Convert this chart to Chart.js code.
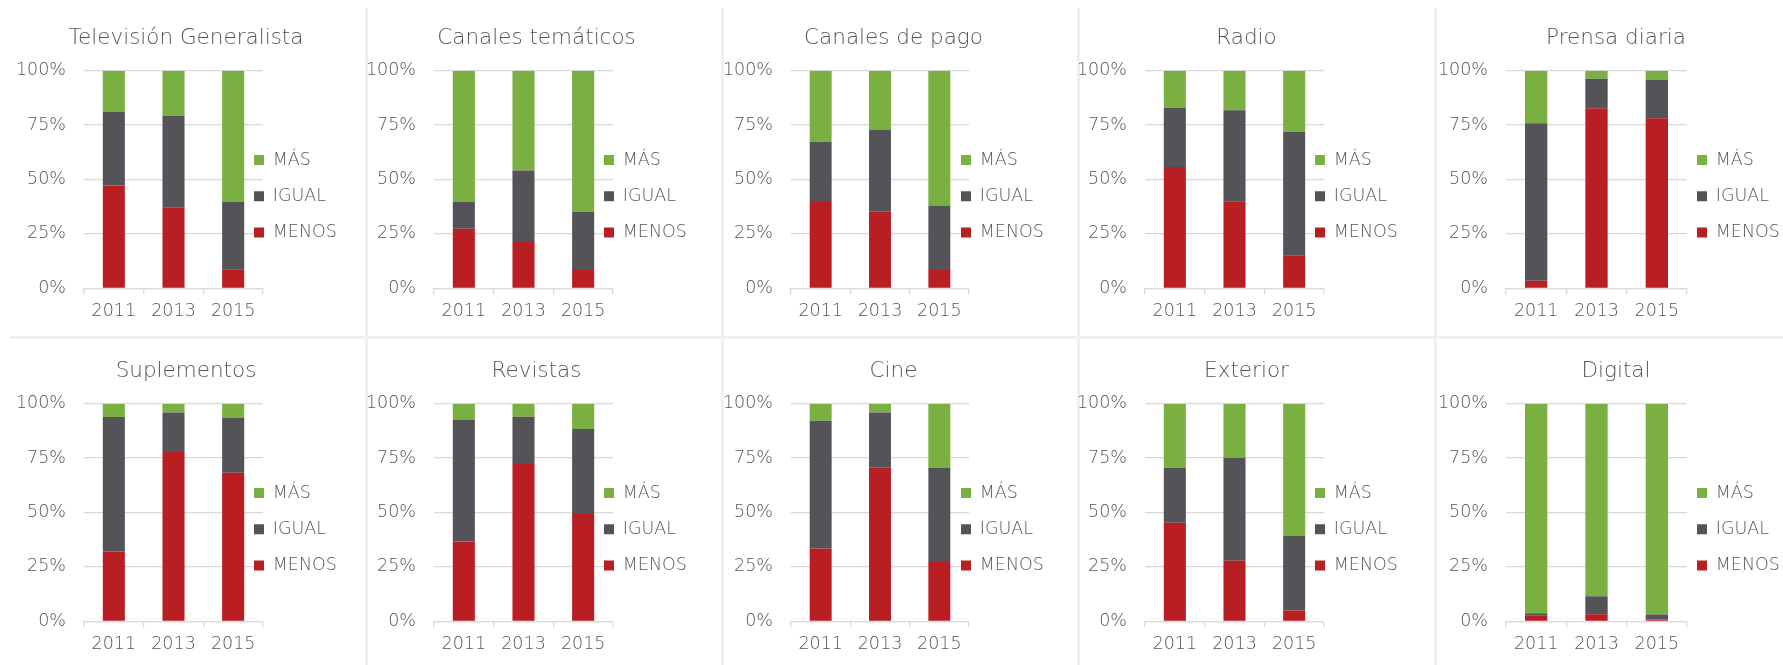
<!DOCTYPE html>
<html>
<head>
<meta charset="utf-8">
<script src="https://cdn.jsdelivr.net/npm/chart.js@4/dist/chart.umd.min.js"></script>
<style>
  html, body { margin: 0; padding: 0; background: #ffffff; }
  body { width: 1783px; height: 665px; overflow: hidden; position: relative; }
  .sep { position: absolute; background: #f0f0f0; }
  canvas { position: absolute; }
</style>
</head>
<body>
<script>
// ---------- DATA ----------
const CATEGORIES = ['2011', '2013', '2015'];
const PANEL_TITLES = ['Televisión Generalista', 'Canales temáticos', 'Canales de pago', 'Radio', 'Prensa diaria',
                      'Suplementos', 'Revistas', 'Cine', 'Exterior', 'Digital'];
const SERIES_NAMES = ['MENOS', 'IGUAL', 'MÁS'];
// percentages per panel, one value per category (2011, 2013, 2015)
const MENOS = [
  [47.3, 37.2, 8.7], [27.4, 21.7, 8.4], [40.1, 35.2, 8.4], [55.7, 40.0, 15.2], [3.5, 82.8, 78.1],
  [32.1, 77.8, 68.3], [36.7, 72.3, 49.8], [33.5, 70.6, 27.2], [45.3, 27.8, 5.0], [2.8, 3.2, 0.8]
];
const IGUAL = [
  [33.7, 42.1, 31.1], [12.4, 32.4, 26.8], [27.3, 37.8, 29.6], [27.3, 41.8, 56.8], [72.3, 13.5, 17.8],
  [61.8, 18.2, 25.3], [56.0, 21.7, 38.6], [58.7, 25.4, 43.3], [25.3, 47.4, 34.3], [0.9, 8.3, 2.3]
];
const MAS = [
  [19.0, 20.7, 60.2], [60.2, 45.9, 64.8], [32.6, 27.0, 62.0], [17.0, 18.2, 28.0], [24.2, 3.7, 4.1],
  [6.1, 4.0, 6.4], [7.3, 6.0, 11.6], [7.8, 4.0, 29.5], [29.4, 24.8, 60.7], [96.3, 88.5, 96.9]
];
const Y_TICK_VALUES = [0, 25, 50, 75, 100];
const Y_TICK_SUFFIX = '%';

// ---------- STYLE / LAYOUT ----------
const SERIES_COLORS = ['#b91e23', '#545458', '#7aaf42'];
const TEXT_COLOR = '#555555';
const GRID_COLOR = '#d9d9d9';
const FONT_FAMILY = "'DejaVu Sans Light', 'DejaVu Sans', sans-serif";
const FONT_WEIGHT = 200;
const COL_LEFT = [11, 361, 718, 1072, 1433];
const COL_WIDTH = [350, 351, 351, 349, 366];
const PLOT_WIDTH = [179, 179, 178, 179, 181];
const LEGEND_DX = [170, 170, 170, 170, 191];
const ROW_TOP = [8, 341];
const PANEL_H = 330;
const Y_AXIS_W = 73;

// separators
[[365, 8, 3, 700], [721, 8, 3, 700], [1077, 8, 3, 700], [1433.5, 8, 3, 700], [10, 336, 1790, 3]].forEach(s => {
  const d = document.createElement('div');
  d.className = 'sep';
  d.style.left = s[0] + 'px'; d.style.top = s[1] + 'px';
  d.style.width = s[2] + 'px'; d.style.height = s[3] + 'px';
  document.body.appendChild(d);
});

const legendPlace = {
  id: 'legendPlace',
  afterLayout(chart, args, opts) {
    const lg = chart.legend;
    if (!lg || !lg.columnSizes || !lg.columnSizes.length) return;
    const pad = lg.options.labels.padding;
    const colH = lg.columnSizes[0].height;
    const H = 400;
    const left = chart.chartArea.left + opts.dx - pad;
    const top = (2 * opts.y0 - pad - H + colH) / 2;
    lg.left = left; lg.right = left + 160; lg.width = 160;
    lg.top = top; lg.bottom = top + H; lg.height = H;
  }
};

function font(size) { return { family: FONT_FAMILY, size: size, weight: FONT_WEIGHT, lineHeight: 1.2 }; }

PANEL_TITLES.forEach((title, i) => {
  const col = i % 5, row = Math.floor(i / 5);
  const W = COL_WIDTH[col];
  const cv = document.createElement('canvas');
  cv.width = W; cv.height = PANEL_H;
  cv.style.left = COL_LEFT[col] + 'px';
  cv.style.top = ROW_TOP[row] + 'px';
  cv.style.width = W + 'px'; cv.style.height = PANEL_H + 'px';
  document.body.appendChild(cv);
  const padR = W - Y_AXIS_W - PLOT_WIDTH[col] - 1;

  new Chart(cv, {
    type: 'bar',
    data: {
      labels: CATEGORIES,
      datasets: [
        { label: SERIES_NAMES[0], data: MENOS[i], backgroundColor: SERIES_COLORS[0] },
        { label: SERIES_NAMES[1], data: IGUAL[i], backgroundColor: SERIES_COLORS[1] },
        { label: SERIES_NAMES[2], data: MAS[i], backgroundColor: SERIES_COLORS[2] }
      ]
    },
    options: {
      responsive: false,
      animation: false,
      layout: { padding: 0 },
      datasets: { bar: { barPercentage: 0.37, categoryPercentage: 1, borderWidth: 0 } },
      scales: {
        x: {
          stacked: true,
          grid: { drawOnChartArea: false, drawTicks: true, tickLength: 6, color: GRID_COLOR, lineWidth: 1.3, offset: true },
          border: { display: true, color: GRID_COLOR, width: 1.3 },
          ticks: { font: font(17.5), color: TEXT_COLOR, padding: 7, maxRotation: 0 },
          afterFit: s => { s.height = PANEL_H - 280.3; }
        },
        y: {
          stacked: true, min: 0, max: 100,
          afterBuildTicks: s => { s.ticks = Y_TICK_VALUES.map(v => ({ value: v })); },
          ticks: { callback: v => v + Y_TICK_SUFFIX, font: font(17.5), color: TEXT_COLOR, padding: 18 },
          grid: { color: GRID_COLOR, lineWidth: 1.3, drawTicks: false },
          border: { display: false },
          afterFit: s => { s.width = Y_AXIS_W; }
        },
        pad: {
          type: 'linear', position: 'right', display: true,
          grid: { display: false }, ticks: { display: false }, border: { display: false },
          afterFit: s => { s.width = padR; }
        }
      },
      plugins: {
        title: {
          display: true, text: title, color: TEXT_COLOR, font: font(21.5),
          padding: { top: 17.8, bottom: 19.1 }
        },
        legend: {
          display: true, position: 'right', reverse: true, maxWidth: 1,
          labels: { boxWidth: 10, boxHeight: 10, padding: 18.7, font: font(17.5), color: TEXT_COLOR, textAlign: 'left' }
        },
        tooltip: { enabled: false },
        legendPlace: { dx: LEGEND_DX[col], y0: 143.3 }
      }
    },
    plugins: [legendPlace]
  });
});
</script>
</body>
</html>
